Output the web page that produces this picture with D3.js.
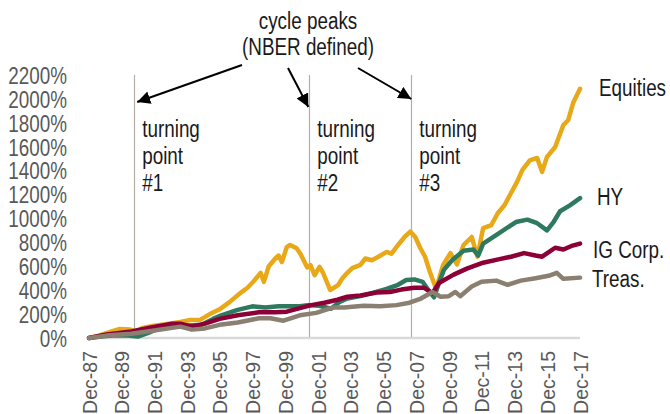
<html lang="en">
<head>
<meta charset="utf-8">
<title>Cycle peaks</title>
<script src="https://cdn.jsdelivr.net/npm/d3@7"></script>
<style>
    body { margin: 0; background: white; }
    text { font-family: "Liberation Sans", Arial, sans-serif; }
    .axis text { fill: #595959; font-size: 23px; }
    .xaxis text { fill: #595959; font-size: 19.5px; }
    .note { fill: #1a1a1a; font-size: 23px; }
</style>
</head>
<body>
<script>
    // cumulative total return since Dec-87, % (x as decimal year)
    var eqYears = [1987.92, 1988.5, 1989.3, 1989.8, 1990.4, 1990.75, 1991.2, 1991.8, 1992.6, 1993.5, 1994.1, 1994.7,
        1995.3, 1995.9, 1996.5, 1997.2, 1997.6, 1997.95, 1998.4, 1998.6, 1998.9, 1999.3, 1999.5, 1999.7, 2000.0,
        2000.2, 2000.6, 2000.85, 2001.25, 2001.45, 2001.7, 2002.0, 2002.2, 2002.65, 2002.85, 2003.15, 2003.4,
        2003.7, 2004.0, 2004.5, 2004.8, 2005.2, 2005.6, 2006.1, 2006.4, 2006.8, 2007.2, 2007.55, 2007.85, 2008.15,
        2008.45, 2008.75, 2009.1, 2009.25, 2009.55, 2010.0, 2010.4, 2010.8, 2011.3, 2011.65, 2012.0, 2012.5,
        2012.9, 2013.3, 2013.65, 2014.05, 2014.4, 2014.85, 2015.3, 2015.6, 2015.9, 2016.4, 2016.9, 2017.2, 2017.5, 2017.92];
    var eqValues = [0, 20, 55, 75, 72, 55, 85, 100, 115, 135, 150, 152,
        200, 240, 300, 380, 420, 470, 545, 470, 600, 665, 690, 635, 760,
        778, 750, 700, 590, 610, 525, 595, 550, 402, 418, 445, 500,
        545, 585, 612, 665, 650, 680, 720, 705, 778, 845, 890, 845, 755,
        680, 550, 420, 470, 610, 710, 615, 778, 845, 680, 920, 945,
        1046, 1110, 1200, 1300, 1406, 1485, 1506, 1390, 1515, 1598, 1782, 1824, 1967, 2085];

    var hyYears = [1987.92, 1988.5, 1989.5, 1990.3, 1990.9, 1991.5, 1992.0, 1993.0, 1994.0, 1994.8, 1995.5, 1996.0,
        1997.0, 1997.9, 1998.7, 1999.5, 2000.0, 2000.8, 2001.3, 2002.0, 2002.7, 2003.2, 2003.7, 2004.5, 2005.3,
        2006.1, 2006.8, 2007.3, 2007.8, 2008.3, 2008.7, 2009.0, 2009.3, 2009.6, 2010.1, 2010.8, 2011.4, 2011.7,
        2012.0, 2013.0, 2014.0, 2014.7, 2015.3, 2015.9, 2016.3, 2016.7, 2017.3, 2017.92];
    var hyValues = [0, 10, 22, 20, 12, 40, 70, 100, 105, 110, 160, 190,
        235, 265, 255, 265, 265, 265, 275, 270, 245, 300, 330, 350, 380,
        410, 445, 485, 490, 470, 390, 340, 460, 570, 650, 730, 740, 690,
        790, 880, 970, 990, 960, 900, 970, 1060, 1110, 1170];

    var igYears = [1987.92, 1989.0, 1990.5, 1991.8, 1993.0, 1993.5, 1994.2, 1995.0, 1995.9, 1997.0, 1998.3, 1999.3,
        2000.0, 2000.8, 2001.5, 2002.3, 2003.1, 2003.7, 2004.5, 2005.5, 2006.3, 2007.0, 2007.8, 2008.4, 2008.9,
        2009.3, 2010.2, 2011.0, 2012.0, 2013.0, 2013.7, 2014.5, 2015.2, 2015.6, 2016.4, 2016.9, 2017.4, 2017.92];
    var igValues = [0, 30, 55, 90, 120, 120, 95, 120, 160, 190, 215, 215,
        220, 250, 275, 295, 320, 345, 355, 380, 385, 405, 420, 420, 375,
        460, 530, 580, 630, 660, 680, 710, 690, 680, 755, 740, 770, 790];

    var trYears = [1987.92, 1989.0, 1990.5, 1991.8, 1993.5, 1994.2, 1995.0, 1995.9, 1997.0, 1998.3, 1999.0, 1999.8,
        2000.8, 2001.8, 2002.8, 2003.5, 2004.7, 2005.7, 2006.7, 2007.5, 2008.2, 2008.9, 2009.4, 2009.9, 2010.3,
        2010.6, 2011.3, 2011.9, 2012.8, 2013.5, 2014.3, 2015.2, 2016.0, 2016.5, 2016.9, 2017.92];
    var trValues = [0, 20, 35, 60, 95, 70, 80, 110, 130, 165, 165, 145,
        190, 210, 255, 255, 270, 265, 275, 295, 330, 385, 345, 350, 385,
        350, 430, 470, 480, 445, 480, 500, 520, 545, 495, 505];

    var peakYears = [1990.68, 2001.38, 2007.61];
    var peakNames = ["#1", "#2", "#3"];

    var yTicks = [0, 200, 400, 600, 800, 1000, 1200, 1400, 1600, 1800, 2000, 2200];
    var xTickYears = [1987, 1989, 1991, 1993, 1995, 1997, 1999, 2001, 2003, 2005, 2007, 2009, 2011, 2013, 2015, 2017];

    var series = [
        {name: "Equities", years: eqYears, values: eqValues, color: "#E8A818", lx: 599, dy: -1},
        {name: "HY", years: hyYears, values: hyValues, color: "#2F7A5E", lx: 597, dy: -1},
        {name: "IG Corp.", years: igYears, values: igValues, color: "#8C0037", lx: 593, dy: 6},
        {name: "Treas.", years: trYears, values: trValues, color: "#8A7F70", lx: 592, dy: 1}
    ];

    var w = 670, h = 414;
    var squeeze = 0.82; // the source text is narrow

    var xScale = d3.scaleLinear()
        .domain([1987.917, 2017.917])
        .range([89, 580]);

    var yScale = d3.scaleLinear()
        .domain([0, 2200])
        .range([338, 75]);

    var svg = d3.select("body").append("svg")
        .attr("width", w)
        .attr("height", h);

    // narrow text placed at x,y
    function note(x, y, anchor) {
        return svg.append("text")
            .attr("class", "note")
            .attr("text-anchor", anchor || "start")
            .attr("transform", "translate(" + x + "," + y + ") scale(" + squeeze + ",1)");
    }

    // y axis labels only
    var yAxis = d3.axisLeft(yScale)
        .tickValues(yTicks)
        .tickSize(0)
        .tickPadding(0)
        .tickFormat(function(d) { return d + "%"; });

    svg.append("g")
        .attr("class", "axis")
        .attr("transform", "translate(67,0)")
        .call(yAxis)
        .call(function(g) { g.select(".domain").remove(); })
        .selectAll("text")
        .attr("x", 0)
        .attr("dy", "0.36em")
        .attr("transform", "scale(" + squeeze + ",1)");

    // x axis
    var xAxis = d3.axisBottom(xScale)
        .tickValues(xTickYears.map(function(y) { return y + 0.917; }))
        .tickSize(0)
        .tickFormat(function(d) { return "Dec-" + String(Math.round(d - 0.917)).slice(2); });

    var xg = svg.append("g")
        .attr("class", "xaxis")
        .attr("transform", "translate(0,338)")
        .call(xAxis);

    xg.select(".domain")
        .attr("stroke", "#d9d9d9")
        .attr("stroke-width", 2.5)
        .attr("d", "M88,0H580");

    xg.selectAll("text")
        .attr("text-anchor", "end")
        .attr("transform", "translate(0,13) rotate(-90)")
        .attr("x", 0)
        .attr("y", 0)
        .attr("dy", "0.36em");

    // cycle peak lines
    svg.selectAll("line.peak")
        .data(peakYears)
        .enter()
        .append("line")
        .attr("class", "peak")
        .attr("x1", function(d) { return Math.round(xScale(d)) + 0.5; })
        .attr("x2", function(d) { return Math.round(xScale(d)) + 0.5; })
        .attr("y1", 75)
        .attr("y2", 337)
        .attr("stroke", "#b3aea6")
        .attr("stroke-width", 1.2);

    // lines
    var line = d3.line()
        .x(function(d) { return xScale(d[0]); })
        .y(function(d) { return yScale(d[1]); });

    series.forEach(function(s) {
        var pts = s.years.map(function(y, i) { return [y, s.values[i]]; });
        svg.append("path")
            .attr("d", line(pts))
            .attr("fill", "none")
            .attr("stroke", s.color)
            .attr("stroke-width", 4.5)
            .attr("stroke-linejoin", "round")
            .attr("stroke-linecap", "round");
    });

    // series labels
    series.forEach(function(s) {
        note(s.lx, yScale(s.values[s.values.length - 1]) + s.dy)
            .attr("dy", "0.36em")
            .text(s.name);
    });

    // turning point labels
    peakYears.forEach(function(p, i) {
        var t = note(xScale(p) + 8, 137);
        ["turning", "point", peakNames[i]].forEach(function(s, j) {
            t.append("tspan")
                .attr("x", 0)
                .attr("dy", j === 0 ? 0 : 27)
                .text(s);
        });
    });

    // title note and arrows
    note(308, 29, "middle").text("cycle peaks");
    note(308, 55, "middle").text("(NBER defined)");

    svg.append("defs").append("marker")
        .attr("id", "arrow")
        .attr("viewBox", "0 0 10 10")
        .attr("refX", 10)
        .attr("refY", 5)
        .attr("markerWidth", 6.5)
        .attr("markerHeight", 6.5)
        .attr("markerUnits", "strokeWidth")
        .attr("orient", "auto")
        .append("path")
        .attr("d", "M0,0L10,5L0,10Z")
        .attr("fill", "black");

    var arrowStarts = [[242, 65], [288, 68], [358, 68]];
    var arrowEnds = [[xScale(peakYears[0]) + 3, 102], [xScale(peakYears[1]) - 1, 107], [xScale(peakYears[2]), 99]];

    arrowStarts.forEach(function(a, i) {
        svg.append("line")
            .attr("x1", a[0])
            .attr("y1", a[1])
            .attr("x2", arrowEnds[i][0])
            .attr("y2", arrowEnds[i][1])
            .attr("stroke", "black")
            .attr("stroke-width", 2)
            .attr("marker-end", "url(#arrow)");
    });
</script>
</body>
</html>
